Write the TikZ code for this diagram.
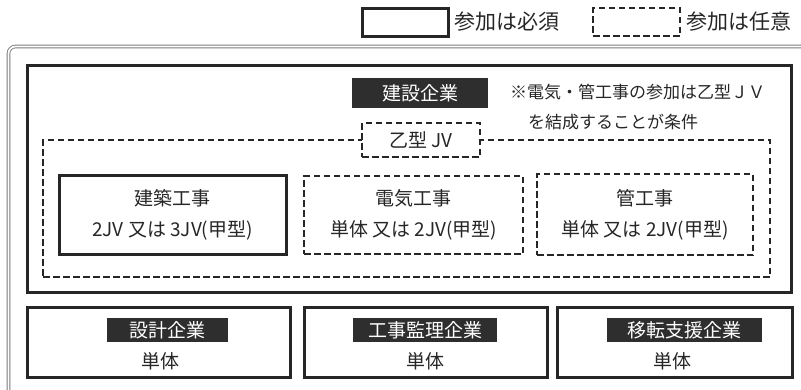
\documentclass[tikz,border=0pt]{standalone}
\usepackage{fontspec}
\setmainfont{Noto Sans CJK JP}
\usepackage{tikz}
\usetikzlibrary{positioning}
\definecolor{ink}{HTML}{262626}
\definecolor{tagfill}{HTML}{2E2E2E}
\definecolor{framegray}{HTML}{7A7A7A}
\tikzstyle{every node}+=[inner sep=0pt]
\tikzstyle{mustbox} = [rectangle, draw=ink, line width=3pt]
\tikzstyle{optbox} = [rectangle, draw=ink, line width=2pt, dash pattern=on 6.5pt off 3.5pt]
\tikzstyle{tag} = [rectangle, fill=tagfill, text=white, font=\fontsize{19}{19}\selectfont]
\tikzstyle{note} = [text=ink, anchor=west, font=\fontsize{17}{17}\selectfont]
\tikzstyle{legtext} = [text=ink, font=\fontsize{21}{21}\selectfont]
\tikzstyle{work} = [text=ink, align=center, font=\fontsize{19}{31}\selectfont]

\begin{document}
\begin{tikzpicture}[x=1pt, y=-1pt]
            \useasboundingbox (0,0) rectangle (801,389);
            \clip (0,0) rectangle (801,389);
            % Legend
            \node [mustbox, minimum width=86pt, minimum height=28pt] (legMust) at (405,22) {};
            \node [legtext, right=5pt of legMust] (legMustTxt) {参加は必須};
            \node [optbox, minimum width=87pt, minimum height=28pt] (legOpt) at (636.5,22) {};
            \node [legtext, right=5pt of legOpt] (legOptTxt) {参加は任意};
            % Outer frame
            \draw [framegray, line width=0.9pt, double=white, double distance=1.8pt, rounded corners=7pt] (8.5,46.5) rectangle (840,430);
            % Construction companies
            \node [mustbox, minimum width=764pt, minimum height=227pt] (build) at (409,178.5) {};
            \node [tag, minimum width=136pt, minimum height=30pt] (buildTag) at (420,93) {建設企業};
            \node [note] (cond1) at (510,92) {※電気・管工事の参加は乙型ＪＶ};
            \node [note] (cond2) at (528,122) {を結成することが条件};
            % JV group
            \node [optbox, minimum width=727pt, minimum height=137pt] (jv) at (406.5,208.5) {};
            \node [optbox, fill=white, text=ink, font=\fontsize{19}{19}\selectfont, minimum width=118pt, minimum height=34pt] (jvTag) at (421,140) {乙型 JV};
            \node [mustbox, work, minimum width=227pt, minimum height=79pt] (arch) at (172.5,214.5) {建築工事\\2JV 又は 3JV(甲型)};
            \node [optbox, work, minimum width=219pt, minimum height=78pt] (elec) at (413.5,215) {電気工事\\単体 又は 2JV(甲型)};
            \node [optbox, work, minimum width=216pt, minimum height=81pt] (pipe) at (645,214.5) {管工事\\単体 又は 2JV(甲型)};
            % Other companies
            \node [mustbox, minimum width=263pt, minimum height=70pt] (design) at (158.5,342) {};
            \node [tag, minimum width=121pt, minimum height=24pt] (designTag) at (167.5,330) {設計企業};
            \node [work] (designSolo) at (160,361) {単体};
            \node [mustbox, minimum width=243pt, minimum height=70pt] (super) at (425.5,342) {};
            \node [tag, minimum width=144pt, minimum height=24pt] (superTag) at (425,330) {工事監理企業};
            \node [work] (superSolo) at (425,361) {単体};
            \node [mustbox, minimum width=235pt, minimum height=70pt] (move) at (674.5,342) {};
            \node [tag, minimum width=155pt, minimum height=24pt] (moveTag) at (684.5,330) {移転支援企業};
            \node [work] (moveSolo) at (672,361) {単体};
          \end{tikzpicture}
\end{document}
